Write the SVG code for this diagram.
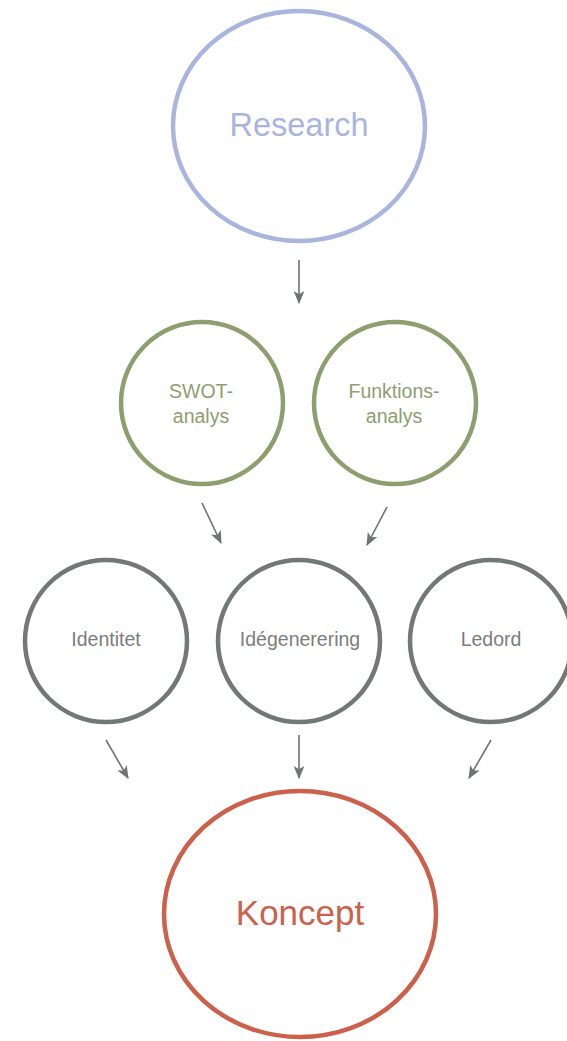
<svg xmlns="http://www.w3.org/2000/svg" width="567" height="1041" viewBox="0 0 567 1041">
<style>
text{font-family:"Liberation Sans",Arial,sans-serif;text-anchor:middle}
.n{fill:none;stroke-width:4.5}
.blue{stroke:#a9b5df}.green{stroke:#8d9e6f}.grey{stroke:#727873}.red{stroke:#cc614b}
.tb{fill:#a9b5df;font-size:32.5px}.tg{fill:#8d9e6f;font-size:19.5px}.tgr{fill:#7b7e7b;font-size:19.5px}.tr{fill:#cc614b;font-size:35px}
.c{stroke:#6f7470;stroke-width:1.6;fill:none}
</style>
<defs>
<marker id="ah" viewBox="0 0 12 10" refX="11" refY="5" markerWidth="13" markerHeight="11" markerUnits="userSpaceOnUse" orient="auto">
<path d="M0,0 L12,5 L0,10 L3,5 Z" fill="#6f7470"/>
</marker>
</defs>
<g id="connectors">
<line class="c" x1="299" y1="260" x2="299" y2="303" marker-end="url(#ah)"/>
<line class="c" x1="202" y1="503" x2="221" y2="543" marker-end="url(#ah)"/>
<line class="c" x1="387" y1="507" x2="367" y2="545" marker-end="url(#ah)"/>
<line class="c" x1="106" y1="740" x2="128" y2="778" marker-end="url(#ah)"/>
<line class="c" x1="299" y1="735" x2="299" y2="778" marker-end="url(#ah)"/>
<line class="c" x1="491" y1="740" x2="469" y2="778" marker-end="url(#ah)"/>
</g>
<g id="research">
<ellipse class="n blue" cx="299" cy="126" rx="126" ry="115"/>
<text class="tb" x="299" y="136">Research</text>
</g>
<g id="swot">
<circle class="n green" cx="202" cy="403" r="81"/>
<text class="tg" x="201" y="398">SWOT-</text>
<text class="tg" x="201" y="423">analys</text>
</g>
<g id="funktion">
<circle class="n green" cx="395" cy="403" r="81"/>
<text class="tg" x="394" y="398">Funktions-</text>
<text class="tg" x="394" y="423">analys</text>
</g>
<g id="identitet">
<circle class="n grey" cx="106" cy="641" r="81"/>
<text class="tgr" x="106" y="646">Identitet</text>
</g>
<g id="idegenerering">
<circle class="n grey" cx="299" cy="641" r="81"/>
<text class="tgr" x="300" y="646">Idégenerering</text>
</g>
<g id="ledord">
<circle class="n grey" cx="491" cy="641" r="81"/>
<text class="tgr" x="491" y="646">Ledord</text>
</g>
<g id="koncept">
<ellipse class="n red" cx="300" cy="914" rx="136" ry="123"/>
<text class="tr" x="300" y="925">Koncept</text>
</g>
</svg>
